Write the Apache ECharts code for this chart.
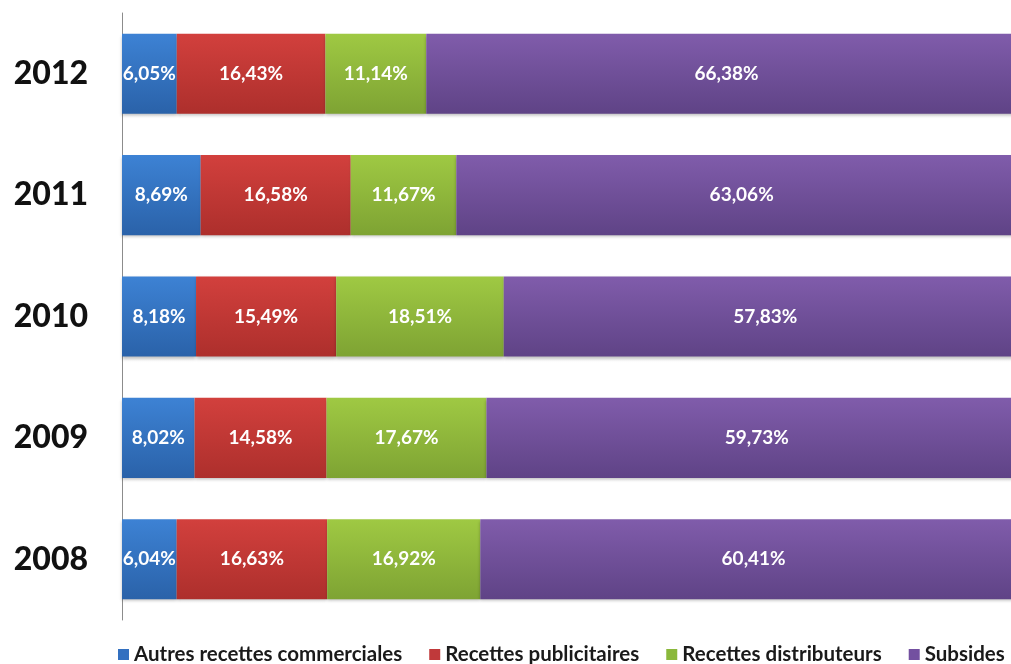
<!DOCTYPE html>
<html>
<head>
<meta charset="utf-8">
<script src="https://cdn.jsdelivr.net/npm/echarts@6/dist/echarts.min.js"></script>
<style>
  html, body { margin: 0; padding: 0; background: #fff; overflow: hidden; }
  /* the 100% end of the bars runs a little past the visible window */
  #chart { width: 1027px; height: 664px; }
</style>
</head>
<body>
<div id="chart"></div>
<script>
// Years, bottom to top
const years = ['2008', '2009', '2010', '2011', '2012'];

// Share of revenue per source (%), same order as years
const autresCommerciales = [6.04, 8.02, 8.18, 8.69, 6.05];
const publicitaires      = [16.63, 14.58, 15.49, 16.58, 16.43];
const distributeurs      = [16.92, 17.67, 18.51, 11.67, 11.14];
const subsides           = [60.41, 59.73, 57.83, 63.06, 66.38];

const seriesNames = ['Autres recettes commerciales', 'Recettes publicitaires', 'Recettes distributeurs', 'Subsides'];
const seriesData = [autresCommerciales, publicitaires, distributeurs, subsides];

// Top / bottom shades of each bar's vertical gradient
const shades = [
  ['#3d82d4', '#2a62a9'],
  ['#d2403d', '#ad2f2c'],
  ['#9fc943', '#7ea333'],
  ['#805cab', '#5f4386']
];
const legendColors = ['#3370c0', '#c0393a', '#8ab83b', '#7350a0'];

const fmt = v => v.toFixed(2).replace('.', ',') + '%';

const chart = echarts.init(document.getElementById('chart'), null, { renderer: 'canvas' });

chart.setOption({
  animation: false,
  backgroundColor: '#ffffff',
  grid: { left: 122, top: 13, bottom: 44, right: 0, containLabel: false },
  xAxis: {
    type: 'value', min: 0, max: 100,
    show: false
  },
  yAxis: {
    type: 'category',
    data: years,
    axisLine: { show: true, lineStyle: { color: '#8c8c8c', width: 1 } },
    axisTick: { show: false },
    axisLabel: {
      margin: 34,
      color: '#111',
      fontFamily: 'Lato, "Open Sans", sans-serif',
      fontWeight: 900,
      fontSize: 32
    }
  },
  legend: {
    bottom: -6,
    left: 113,
    itemWidth: 11,
    itemHeight: 11,
    itemGap: 27,
    icon: 'rect',
    textStyle: {
      color: '#1a1a1a',
      fontFamily: 'Lato, "Open Sans", sans-serif',
      fontWeight: 'bold',
      fontSize: 20.5
    },
    data: seriesNames.map((n, i) => ({ name: n, itemStyle: { color: legendColors[i] } }))
  },
  series: seriesNames.map((name, i) => ({
    name,
    type: 'bar',
    stack: 'total',
    barWidth: '66%',
    data: seriesData[i],
    itemStyle: {
      color: new echarts.graphic.LinearGradient(0, 0, 0, 1, [
        { offset: 0, color: shades[i][0] },
        { offset: 1, color: shades[i][1] }
      ]),
      shadowColor: 'rgba(0,0,0,0.25)',
      shadowBlur: 3,
      shadowOffsetY: 2
    },
    label: {
      show: true,
      position: 'inside',
      color: '#ffffff',
      fontFamily: 'Lato, "Open Sans", sans-serif',
      fontWeight: 'bold',
      fontSize: 19,
      formatter: p => fmt(p.value)
    }
  }))
});
</script>
</body>
</html>
